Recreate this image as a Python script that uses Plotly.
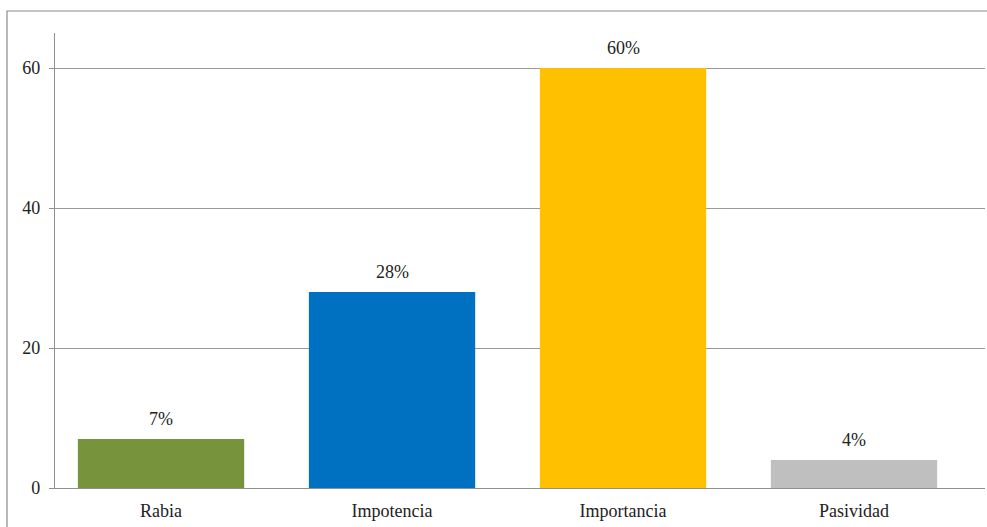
import plotly.graph_objects as go

categories = ["Rabia", "Impotencia", "Importancia", "Pasividad"]
values = [7, 28, 60, 4]
labels = ["7%", "28%", "60%", "4%"]
colors = ["#77933C", "#0070C0", "#FFC000", "#BFBFBF"]
y_ticks = [0, 20, 40, 60]

W, H = 987, 527
ml, mr, mt, mb = 55, 2, 33, 39
serif = "Liberation Serif"

fig = go.Figure()
fig.add_trace(go.Bar(
    x=list(range(len(categories))),
    y=values,
    width=0.72,
    marker=dict(color=colors, line=dict(width=0)),
    hoverinfo="skip",
))

for i, (v, t) in enumerate(zip(values, labels)):
    fig.add_annotation(x=i, y=v, text=t, showarrow=False, yanchor="middle",
                       yshift=20, font=dict(family=serif, size=18, color="#222"))

pw = W - ml - mr
ph = H - mt - mb
# outer frame around the whole chart
fig.add_shape(type="rect", xref="paper", yref="paper",
              x0=(7 - ml) / pw, x1=(W + 5 - ml) / pw,
              y0=-(H + 5 - mt - ph) / ph, y1=1 + (mt - 11) / ph,
              line=dict(color="#8a8a8a", width=1.2), fillcolor="rgba(0,0,0,0)",
              layer="below")

fig.update_layout(
    width=W, height=H,
    margin=dict(l=ml, r=mr, t=mt, b=mb),
    plot_bgcolor="white", paper_bgcolor="white",
    showlegend=False,
    font=dict(family=serif, size=18, color="#222"),
    xaxis=dict(
        range=[-0.459, 3.567],
        tickmode="array", tickvals=list(range(len(categories))), ticktext=categories,
        showgrid=False, zeroline=False,
        showline=True, linecolor="#8f8f8f", linewidth=1.2,
        ticks="", ticklabelstandoff=6,
        tickfont=dict(family=serif, size=18, color="#222"),
    ),
    yaxis=dict(
        range=[0, 65],
        tickmode="array", tickvals=y_ticks,
        showgrid=True, gridcolor="#9a9a9a", gridwidth=1.2,
        zeroline=False,
        showline=True, linecolor="#8f8f8f", linewidth=1.2,
        ticks="outside", ticklen=5, tickcolor="#8f8f8f",
        ticklabelstandoff=5,
        tickfont=dict(family=serif, size=18, color="#222"),
    ),
)

fig.write_html("out.html")
